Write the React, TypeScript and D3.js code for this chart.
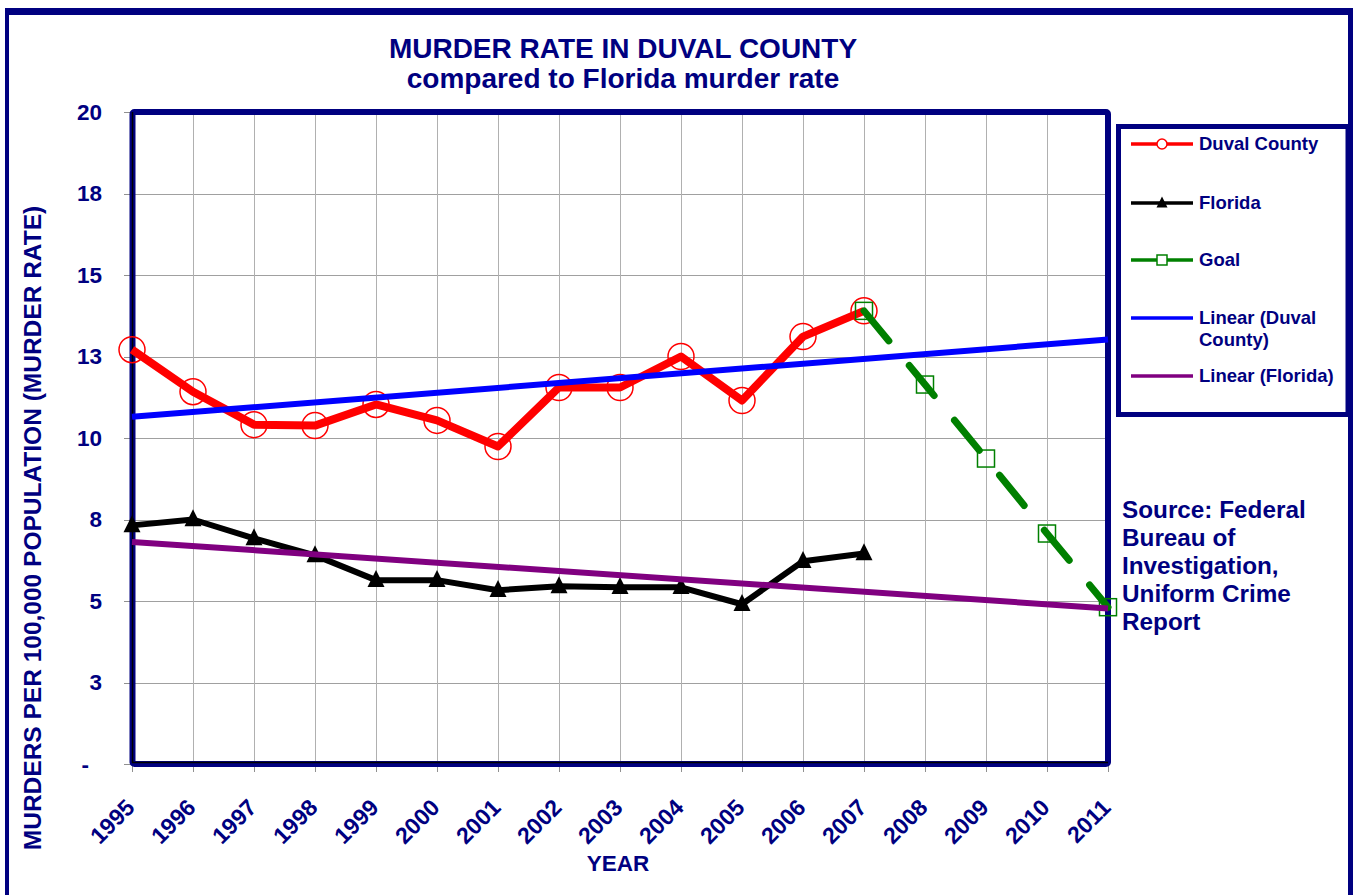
import React from "react";
import * as d3 from "d3";

const years = [1995, 1996, 1997, 1998, 1999, 2000, 2001, 2002, 2003, 2004, 2005, 2006, 2007, 2008, 2009, 2010, 2011];
const duvalYears = [1995, 1996, 1997, 1998, 1999, 2000, 2001, 2002, 2003, 2004, 2005, 2006, 2007];
const duvalValues = [12.71, 11.42, 10.41, 10.38, 11.03, 10.54, 9.74, 11.55, 11.55, 12.5, 11.15, 13.11, 13.9];
const floridaValues = [7.32, 7.5, 6.92, 6.4, 5.64, 5.64, 5.33, 5.45, 5.42, 5.42, 4.9, 6.22, 6.46];
const goalYears = [2007, 2008, 2009, 2010, 2011];
const goalValues = [13.9, 11.64, 9.37, 7.07, 4.81];
const yTicks = [0, 2.5, 5, 7.5, 10, 12.5, 15, 17.5, 20];

const NAVY = "#000080";
const FONT = "'Liberation Sans', Arial, Helvetica, sans-serif";

function linearFit(xs: number[], ys: number[]) {
  const n = xs.length;
  const mx = d3.mean(xs) as number;
  const my = d3.mean(ys) as number;
  let sxy = 0, sxx = 0;
  for (let i = 0; i < n; i++) {
    sxy += (xs[i] - mx) * (ys[i] - my);
    sxx += (xs[i] - mx) * (xs[i] - mx);
  }
  const b = sxy / sxx;
  const a = my - b * mx;
  return (x: number) => a + b * x;
}

export default function App() {
  const W = 1353, H = 895;
  const x = d3.scaleLinear().domain([1995, 2011]).range([132, 1108]);
  const y = d3.scaleLinear().domain([0, 20]).range([764, 112]);
  const line = d3.line<[number, number]>().x(d => x(d[0])).y(d => y(d[1]));

  const duvalPts: [number, number][] = duvalYears.map((yr, i) => [yr, duvalValues[i]]);
  const flPts: [number, number][] = duvalYears.map((yr, i) => [yr, floridaValues[i]]);
  const goalPts: [number, number][] = goalYears.map((yr, i) => [yr, goalValues[i]]);
  const fitD = linearFit(duvalYears, duvalValues);
  const fitF = linearFit(duvalYears, floridaValues);
  const trendD: [number, number][] = [[1995, fitD(1995)], [2011, fitD(2011)]];
  const trendF: [number, number][] = [[1995, fitF(1995)], [2011, fitF(2011)]];

  const tri = (cx: number, cy: number, s: number) =>
    `M${cx},${cy - s * 0.6}L${cx + s / 2},${cy + s * 0.4}L${cx - s / 2},${cy + s * 0.4}Z`;

  const fmt = (v: number) => (v === 0 ? "-" : d3.format(".0f")(v));

  const legendRows = [
    { key: "duval", label: ["Duval County"], y: 144 },
    { key: "florida", label: ["Florida"], y: 203 },
    { key: "goal", label: ["Goal"], y: 260 },
    { key: "ld", label: ["Linear (Duval", "County)"], y: 318 },
    { key: "lf", label: ["Linear (Florida)"], y: 376 },
  ];
  const sourceLines = ["Source: Federal", "Bureau of", "Investigation,", "Uniform Crime", "Report"];

  return (
    <svg width={W} height={H} style={{ position: "absolute", left: 0, top: 0, background: "#fff" }} fontFamily={FONT}>
      <rect x={0} y={0} width={W} height={H} fill="#fff" />
      {/* outer frame */}
      <line x1={5} x2={W} y1={11.5} y2={11.5} stroke={NAVY} strokeWidth={7} />
      <line x1={7} x2={7} y1={8} y2={H} stroke={NAVY} strokeWidth={4} />
      <line x1={1350.5} x2={1350.5} y1={8} y2={H} stroke={NAVY} strokeWidth={5} />

      {/* title */}
      <text x={623} y={58} textAnchor="middle" fontSize={28} fontWeight="bold" fill={NAVY}>MURDER RATE IN DUVAL COUNTY</text>
      <text x={623} y={88} textAnchor="middle" fontSize={28} fontWeight="bold" fill={NAVY}>compared to Florida murder rate</text>

      {/* gridlines */}
      {yTicks.map(t => (
        <line key={"gy" + t} x1={x(1995)} x2={x(2011)} y1={Math.round(y(t)) + 0.5} y2={Math.round(y(t)) + 0.5} stroke="#a0a0a0" strokeWidth={1} />
      ))}
      {years.map(yr => (
        <line key={"gx" + yr} x1={Math.round(x(yr)) + 0.5} x2={Math.round(x(yr)) + 0.5} y1={y(20)} y2={y(0)} stroke="#b0b0b0" strokeWidth={1} />
      ))}
      {/* tick marks */}
      {yTicks.map(t => (
        <line key={"ty" + t} x1={124} x2={132} y1={Math.round(y(t)) + 0.5} y2={Math.round(y(t)) + 0.5} stroke="#909090" strokeWidth={1} />
      ))}
      {years.map(yr => (
        <line key={"tx" + yr} x1={Math.round(x(yr)) + 0.5} x2={Math.round(x(yr)) + 0.5} y1={764} y2={772} stroke="#909090" strokeWidth={1} />
      ))}

      {/* plot border */}
      <rect x={132.5} y={112} width={975.5} height={652} fill="none" stroke={NAVY} strokeWidth={6} rx={2} />
      <line x1={132.5} x2={132.5} y1={112} y2={763} stroke="#000" strokeWidth={1.5} />
      <line x1={132} x2={1108} y1={762.5} y2={762.5} stroke="#000" strokeWidth={1.5} />

      {/* y tick labels */}
      {yTicks.map(t => (
        <text key={"ly" + t} x={t === 0 ? 89 : 102} y={y(t)} dy="0.35em" textAnchor="end" fontSize={22.5} fontWeight="bold" fill={NAVY}>{fmt(t)}</text>
      ))}
      {/* x tick labels */}
      {years.map(yr => (
        <text key={"lx" + yr} transform={`translate(${x(yr) + 4},${809}) rotate(-45)`} textAnchor="end" fontSize={23} fontWeight="bold" fill={NAVY}>{yr}</text>
      ))}
      <text x={618} y={871} textAnchor="middle" fontSize={22.5} fontWeight="bold" fill={NAVY}>YEAR</text>
      <text transform={`translate(41,528) rotate(-90)`} textAnchor="middle" fontSize={24.5} fontWeight="bold" fill={NAVY}>MURDERS PER 100,000 POPULATION (MURDER RATE)</text>

      {/* Duval series */}
      <path d={line(duvalPts) as string} fill="none" stroke="#ff0000" strokeWidth={8} strokeLinejoin="round" />
      {duvalPts.map((p, i) => (
        <circle key={"dc" + i} cx={x(p[0])} cy={y(p[1])} r={13} fill="none" stroke="#ff0000" strokeWidth={1.5} />
      ))}
      {/* Florida series */}
      <path d={line(flPts) as string} fill="none" stroke="#000" strokeWidth={6} strokeLinejoin="round" />
      {flPts.map((p, i) => (
        <path key={"ft" + i} d={tri(x(p[0]), y(p[1]), 17)} fill="#000" />
      ))}
      {/* Goal series */}
      <path d={line(goalPts) as string} fill="none" stroke="#008000" strokeWidth={7} strokeDasharray="39 32" strokeLinecap="round" />
      {goalPts.map((p, i) => (
        <rect key={"gs" + i} x={x(p[0]) - 8.5} y={y(p[1]) - 8.5} width={17} height={17} fill="none" stroke="#008000" strokeWidth={1.5} />
      ))}
      {/* trendlines */}
      <path d={line(trendD) as string} fill="none" stroke="#0000ff" strokeWidth={6} />
      <path d={line(trendF) as string} fill="none" stroke="#800080" strokeWidth={6} />

      {/* legend */}
      <rect x={1118.5} y={126.5} width={229.5} height={288} fill="#fff" stroke={NAVY} strokeWidth={5} />
      {legendRows.map(r => {
        const color = r.key === "duval" ? "#ff0000" : r.key === "florida" ? "#000" : r.key === "goal" ? "#008000" : r.key === "ld" ? "#0000ff" : "#800080";
        return (
          <g key={r.key}>
            <line x1={1131} x2={1193} y1={r.y} y2={r.y} stroke={color} strokeWidth={3.5} />
            {r.key === "duval" && <circle cx={1162} cy={r.y} r={5} fill="#fff" stroke={color} strokeWidth={1.5} />}
            {r.key === "florida" && <path d={tri(1162, r.y, 11)} fill="#000" />}
            {r.key === "goal" && <rect x={1157} y={r.y - 5} width={10} height={10} fill="#fff" stroke={color} strokeWidth={1.5} />}
            {r.label.map((t, i) => (
              <text key={i} x={1199} y={r.y + i * 22} dy="0.35em" fontSize={18.5} fontWeight="bold" fill={NAVY}>{t}</text>
            ))}
          </g>
        );
      })}

      {/* source */}
      {sourceLines.map((t, i) => (
        <text key={"s" + i} x={1122} y={518 + i * 28} fontSize={24.3} fontWeight="bold" fill={NAVY}>{t}</text>
      ))}
    </svg>
  );
}
